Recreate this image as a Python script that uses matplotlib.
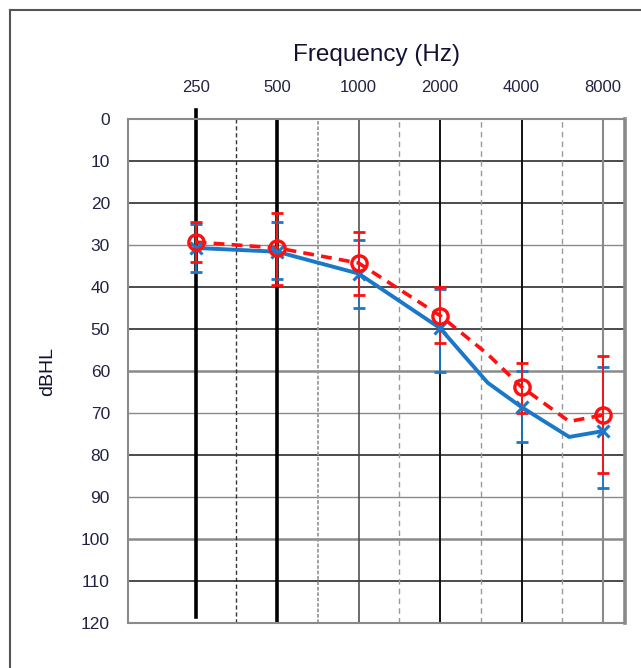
import numpy as np
import matplotlib
matplotlib.use("Agg")
import matplotlib.pyplot as plt
from matplotlib.lines import Line2D

plt.rcParams['font.family'] = ['Liberation Sans', 'DejaVu Sans']

# audiogram data (dB HL), half-octave steps from 250 Hz to 8000 Hz
freqs = [250, 500, 1000, 2000, 3000, 4000, 6000, 8000]
freq_labels = ["250", "500", "1000", "2000", "4000", "8000"]
label_freqs = [250, 500, 1000, 2000, 4000, 8000]

red_vals = [29.3, 30.7, 34.3, 46.8, 56.0, 63.8, 72.0, 70.5]
red_lo = [24.5, 22.4, 27.0, 40.0, np.nan, 58.0, np.nan, 56.4]
red_hi = [34.0, 39.5, 42.0, 53.3, np.nan, 70.0, np.nan, 84.2]

blue_vals = [30.7, 31.6, 36.8, 49.8, 62.8, 68.6, 75.7, 74.3]
blue_lo = [25.0, 24.5, 28.8, 40.5, np.nan, 60.0, np.nan, 59.0]
blue_hi = [36.4, 38.0, 45.0, 60.2, np.nan, 77.0, np.nan, 87.8]

db_ticks = list(range(0, 121, 10))


def octs(f):
    return np.log2(np.asarray(f, dtype=float) / 250.0)


def main():
    fig = plt.figure(figsize=(6.41, 6.68), dpi=100)
    ax = fig.add_axes([128 / 641, 1 - 623 / 668, (625 - 128) / 641, (623 - 119) / 668])

    # outer frame (cut off at right / bottom)
    fig.add_artist(Line2D([10 / 641, 10 / 641], [-0.1, 1 - 10 / 668], color='#555555', lw=1.5))
    fig.add_artist(Line2D([10 / 641, 1.1], [1 - 10 / 668, 1 - 10 / 668], color='#555555', lw=1.5))

    # horizontal grid
    gray_rows = {30: 1.0, 60: 1.8, 70: 1.0, 90: 1.0, 100: 1.8}
    for d in db_ticks[1:-1]:
        if d in gray_rows:
            ax.axhline(d, color='#8a8a8a', lw=gray_rows[d], zorder=1)
        else:
            ax.axhline(d, color='#1a1a1a', lw=1.1, zorder=1)

    # vertical grid
    ax.axvline(0, ymin=0.012, ymax=1.018, color='black', lw=2.6, clip_on=False, zorder=1)
    ax.axvline(1, ymin=0, ymax=1.0, color='black', lw=2.6, zorder=1)
    ax.axvline(0.5, color='#333333', lw=1.0, ls=(0, (3, 2)), zorder=1)
    ax.axvline(1.5, color='#999999', lw=1.3, ls=(0, (2, 1)), zorder=1)
    for x in [2.5, 3.5, 4.5]:
        ax.axvline(x, color='#999999', lw=1.0, ls=(0, (4, 3)), zorder=1)
    ax.axvline(2, color='#444444', lw=1.1, zorder=1)
    ax.axvline(3, color='#111111', lw=1.4, zorder=1)
    ax.axvline(4, color='#111111', lw=1.4, zorder=1)
    ax.axvline(5, color='#8a8a8a', lw=1.5, zorder=1)

    x = octs(freqs)
    rv = np.array(red_vals)
    bv = np.array(blue_vals)
    red_err = [rv - np.array(red_lo), np.array(red_hi) - rv]
    blue_err = [bv - np.array(blue_lo), np.array(blue_hi) - bv]

    blue = '#1a78c8'
    red = '#ff1010'
    ax.errorbar(x, bv, yerr=blue_err, fmt='none', ecolor=blue, elinewidth=1.3,
                capsize=4, capthick=2, zorder=3)
    ax.errorbar(x, rv, yerr=red_err, fmt='none', ecolor=red, elinewidth=1.3,
                capsize=4, capthick=2, zorder=3)
    ax.plot(x, bv, color=blue, lw=2.8, zorder=4)
    mk = [0, 1, 2, 3, 5, 7]
    ax.plot(x[mk], bv[mk], ls='none', marker='x', ms=9, mew=2.2, color=blue, zorder=5)
    ax.plot(x, rv, color=red, lw=2.6, ls=(0, (3, 2)), zorder=4)
    ax.plot(x[mk], rv[mk], ls='none', marker='o', ms=11, mew=2.4, mfc='none', mec=red, zorder=6)

    ax.set_xlim(-0.83, 5.27)
    ax.set_ylim(120, 0)
    ax.xaxis.tick_top()
    ax.set_xticks(octs(label_freqs))
    ax.set_xticklabels(freq_labels, fontsize=12, color='#222244')
    ax.set_yticks(db_ticks)
    ax.set_yticklabels([str(d) for d in db_ticks], fontsize=12.5, color='#222244')
    ax.tick_params(axis='x', length=0, pad=17)
    ax.tick_params(axis='y', length=0, pad=13)
    ax.set_xlabel('Frequency (Hz)', fontsize=17.5, labelpad=14, color='#111133')
    ax.xaxis.set_label_position('top')
    ax.set_ylabel('dBHL', fontsize=14, labelpad=18, color='#111133')

    for side in ['left', 'top', 'bottom']:
        ax.spines[side].set_color('#8a8a8a')
        ax.spines[side].set_linewidth(1.5)
    ax.spines['right'].set_color('#8a8a8a')
    ax.spines['right'].set_linewidth(2.6)

    fig.savefig('out.png', dpi=100)


if __name__ == '__main__':
    main()
